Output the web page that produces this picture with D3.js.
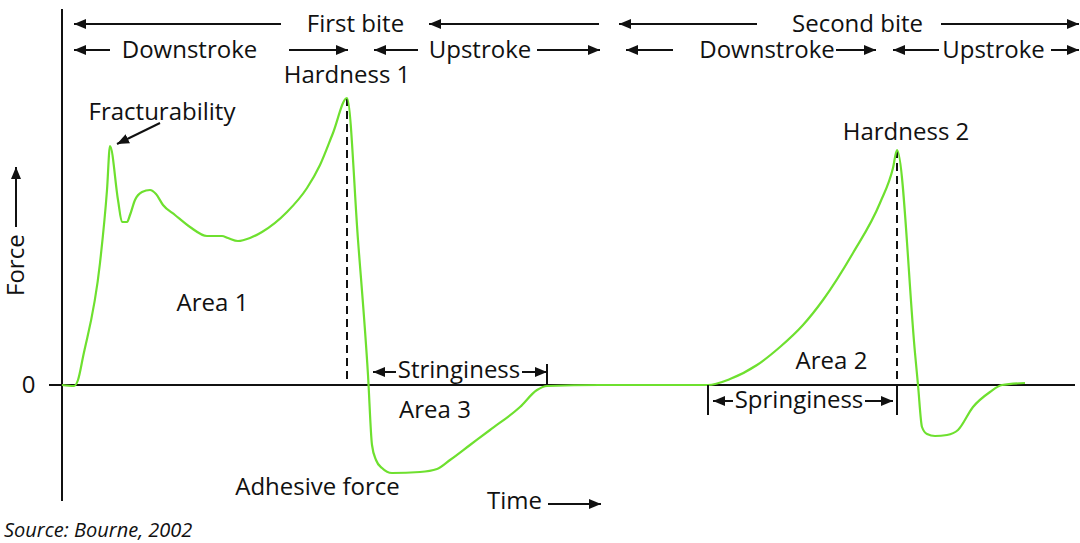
<!DOCTYPE html>
<html lang="en">
<head>
    <meta charset="UTF-8">
    <title>Texture profile analysis</title>
    <script src="https://d3js.org/d3.v7.min.js"></script>
    <style>
        body{
            margin: 0;
            background: #fff;
        }
        svg text{
            font-family: "Open Sans", "Noto Sans", sans-serif;
            font-size: 24px;
            fill: #111;
        }
        .src{
            font-style: italic;
            font-size: 20px;
        }
    </style>
</head>
<body>
<script>
    var w = 1080;
    var h = 543;

    // curve of the two bites (time, force), arbitrary units
    var timeVals  = [0, 1.2, 1.6, 2.1, 3.8, 4.5, 4.8, 5.6, 6.0, 6.5, 6.8, 7.3, 8.0, 8.8, 9.4, 10.1, 11.3, 12.8, 14.5, 16.0, 16.6, 17.6, 18.8, 20.0, 22.5, 24.5, 25.8, 27.1, 28.5,
                     29.6, 30.6, 31.0, 31.4, 32.0, 33.0, 35.8, 37.5, 38.8, 40.8, 42.8, 45.8, 47.5, 48.5, 53.8, 64.6,
                     66.8, 69.5, 71.8, 74.1, 76.1, 79.1, 81.8, 83.1, 83.5,
                     85.3, 85.6, 86.0, 86.5, 87.3, 88.5, 89.6, 91.1, 92.8, 94.0, 96.3];
    var forceVals = [0, -0.01, 0.05, 0.28, 1.22, 1.95, 2.39, 1.85, 1.63, 1.63, 1.70, 1.85, 1.93, 1.95, 1.91, 1.80, 1.70, 1.58, 1.49, 1.49, 1.47, 1.44, 1.47, 1.53, 1.73, 1.97, 2.20, 2.52, 2.87,
                     1.45, 0.10, -0.60, -0.75, -0.83, -0.88, -0.87, -0.84, -0.75, -0.60, -0.45, -0.22, -0.05, -0.01, 0, 0,
                     0.06, 0.20, 0.38, 0.60, 0.85, 1.32, 1.82, 2.17, 2.35,
                     0.32, 0, -0.42, -0.49, -0.51, -0.50, -0.45, -0.22, -0.07, 0, 0.02];

    // peaks (hardness 1, hardness 2)
    var peakTimes  = [28.5, 83.5];
    var peakForces = [2.87, 2.35];

    // phase arrows on top: [from, to] in time units, row
    var phaseArrows = [
        [21.9, 1.2, 0], [53.7, 36.7, 0], [69.5, 55.7, 0], [87.9, 101.7, 0],
        [4.8, 1.2, 1], [22.7, 28.6, 1], [35.6, 31.2, 1], [47.5, 53.8, 1],
        [61.1, 56.4, 1], [77.4, 81.4, 1], [87.7, 83.1, 1], [98.9, 101.7, 1]
    ];
    var phaseLabels = ["First bite", "Second bite", "Downstroke", "Upstroke", "Downstroke", "Upstroke"];
    var phaseLabelTimes = [29.35, 79.55, 12.75, 41.8, 70.5, 93.15];
    var phaseLabelRows = [0, 0, 1, 1, 1, 1];

    var data = timeVals.map((t, i) => ({t: t, f: forceVals[i]}));

    var xScale = d3.scaleLinear().domain([0, 101.3]).range([62, 1075]);
    var yScale = d3.scaleLinear().domain([-1.16, 3.76]).range([501, 9]);
    var rowY = [24, 50];

    var svg = d3.select("body").append("svg")
        .attr("width", w)
        .attr("height", h);

    svg.append("rect").attr("width", w).attr("height", h).attr("fill", "#fff");

    var defs = svg.append("defs");
    defs.append("marker")
        .attr("id", "head")
        .attr("viewBox", "0 -6 13 12")
        .attr("refX", 12).attr("refY", 0)
        .attr("markerWidth", 13).attr("markerHeight", 12)
        .attr("markerUnits", "userSpaceOnUse")
        .attr("orient", "auto")
        .append("path")
        .attr("d", "M0,-5L12,0L0,5Z")
        .attr("fill", "#111");

    function arrow(x1, y1, x2, y2){
        svg.append("line")
            .attr("x1", x1).attr("y1", y1)
            .attr("x2", x2).attr("y2", y2)
            .attr("stroke", "#111")
            .attr("stroke-width", 2)
            .attr("marker-end", "url(#head)");
    }

    // axes
    svg.append("line")
        .attr("x1", xScale(0)).attr("x2", xScale(0))
        .attr("y1", yScale.range()[1]).attr("y2", yScale.range()[0])
        .attr("stroke", "#111").attr("stroke-width", 2);
    svg.append("line")
        .attr("x1", 49).attr("x2", xScale.range()[1])
        .attr("y1", yScale(0)).attr("y2", yScale(0))
        .attr("stroke", "#111").attr("stroke-width", 2);
    svg.append("text").attr("x", 28.5).attr("y", yScale(0)).attr("dy", "0.35em")
        .attr("text-anchor", "middle").text("0");

    // Force label
    var fg = svg.append("g").attr("transform", "translate(16,296) rotate(-90)");
    fg.append("text").attr("x", 0).attr("y", 0).attr("dy", "0.35em").text("Force");
    svg.append("line").attr("x1", 16).attr("x2", 16).attr("y1", 227).attr("y2", 167)
        .attr("stroke", "#111").attr("stroke-width", 2).attr("marker-end", "url(#head)");

    // Time label
    svg.append("text").attr("x", 487).attr("y", 501).attr("dy", "0.35em").text("Time");
    arrow(548, 504, 601, 504);

    // dashed hardness lines
    svg.selectAll(".peak")
        .data(peakTimes)
        .enter().append("line")
        .attr("class", "peak")
        .attr("x1", d => xScale(d)).attr("x2", d => xScale(d))
        .attr("y1", (d, i) => yScale(peakForces[i])).attr("y2", yScale(0))
        .attr("stroke", "#111").attr("stroke-width", 2)
        .attr("stroke-dasharray", "8,5");

    // curve
    var line = d3.line()
        .x(d => xScale(d.t))
        .y(d => yScale(d.f))
        .curve(d3.curveMonotoneX);
    svg.append("path")
        .datum(data)
        .attr("d", line)
        .attr("fill", "none")
        .attr("stroke", "#6ee02f")
        .attr("stroke-width", 2.2);

    // phase arrows
    phaseArrows.forEach(a => arrow(xScale(a[0]), rowY[a[2]], xScale(a[1]), rowY[a[2]]));
    svg.selectAll(".phase")
        .data(phaseLabels)
        .enter().append("text")
        .attr("class", "phase")
        .attr("x", (d, i) => xScale(phaseLabelTimes[i]))
        .attr("y", (d, i) => rowY[phaseLabelRows[i]])
        .attr("dy", "0.35em")
        .attr("text-anchor", "middle")
        .text(d => d);

    // annotations
    function label(txt, x, y){
        svg.append("text").attr("x", x).attr("y", y).attr("dy", "0.35em")
            .attr("text-anchor", "middle").text(txt);
    }
    label("Hardness 1", 347, 75);
    label("Hardness 2", 906, 132);
    label("Fracturability", 162, 112);
    arrow(160, 123, 117, 144);
    label("Area 1", 212.5, 303);
    label("Area 2", 831.5, 360.5);
    label("Area 3", 435, 410);
    label("Adhesive force", 317.5, 487);

    // stringiness
    var s0 = xScale(31.1), s1 = xScale(48.5);
    label("Stringiness", 459, 369.5);
    arrow(396, 372, s0, 372);
    arrow(522, 372, s1, 372);
    svg.append("line").attr("x1", s1).attr("x2", s1).attr("y1", 364).attr("y2", yScale(0))
        .attr("stroke", "#111").attr("stroke-width", 2);

    // springiness
    var p0 = xScale(64.6), p1 = xScale(peakTimes[1]);
    label("Springiness", 799, 400);
    arrow(733, 401, p0 + 5, 401);
    arrow(865, 401, p1 - 4, 401);
    [p0, p1].forEach(x => svg.append("line").attr("x1", x).attr("x2", x)
        .attr("y1", yScale(0)).attr("y2", 415)
        .attr("stroke", "#111").attr("stroke-width", 2));

    svg.append("text").attr("class", "src").attr("x", 4).attr("y", 530).attr("dy", "0.35em")
        .text("Source: Bourne, 2002");
</script>
</body>
</html>
